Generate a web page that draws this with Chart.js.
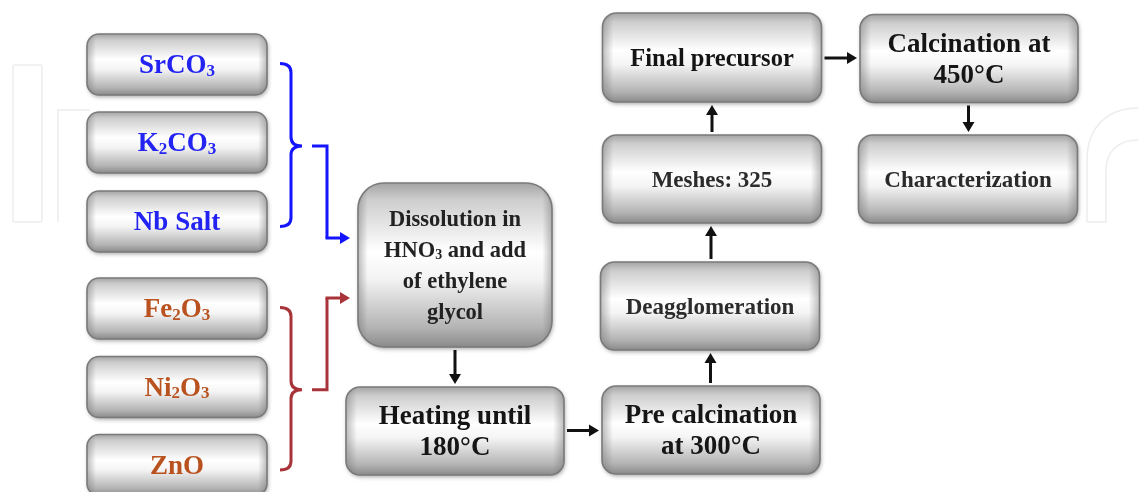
<!DOCTYPE html>
<html>
<head>
<meta charset="utf-8">
<script src="https://cdn.jsdelivr.net/npm/chart.js@4.4.1/dist/chart.umd.min.js"></script>
<style>
html, body { margin: 0; padding: 0; background: #fff; }
#wrap { position: relative; width: 1138px; height: 492px; }
</style>
</head>
<body>
<div id="wrap"><canvas id="flow"></canvas></div>
<script>
// Flowchart of the synthesis route, drawn on a scatter chart (one point per step)

// step labels: "|" breaks a line, "_2" marks a subscript digit
const nodeLabels = [
    'SrCO_3', 'K_2CO_3', 'Nb Salt', 'Fe_2O_3', 'Ni_2O_3', 'ZnO',
    'Dissolution in|HNO_3 and add|of ethylene|glycol',
    'Heating until|180°C', 'Pre calcination|at 300°C', 'Deagglomeration',
    'Meshes: 325', 'Final precursor', 'Calcination at|450°C', 'Characterization'
];
const nodeX = [177, 177, 177, 177, 177, 177, 455, 455, 711, 710, 712, 712, 969, 968];
const nodeY = [64.5, 142.5, 221.5, 308.5, 387, 465, 265, 431, 430, 306, 179, 57.5, 58.5, 179];
const nodeKind = ['blue', 'blue', 'blue', 'red', 'red', 'red', 'dissolve', 'big', 'big', 'small', 'small', 'mid', 'big', 'small'];

// process arrows
const edgeFrom = [6, 7, 8, 9, 10, 11, 12];
const edgeTo = [7, 8, 9, 10, 11, 12, 13];

// raw material groups joined with a brace into the dissolution step
const groupBlue = [0, 1, 2];
const groupRed = [3, 4, 5];
const groupTarget = 6;

const FONT = '"Liberation Serif", "Times New Roman", serif';
const kinds = {
    blue:     { w: 180, h: 61,  r: 12, size: 27, lh: 30, color: '#2323f2' },
    red:      { w: 180, h: 61,  r: 12, size: 27, lh: 30, color: '#b9521f' },
    dissolve: { w: 194, h: 164, r: 26, size: 22.5, lh: 31, color: '#222222' },
    big:      { w: 218, h: 88,  r: 14, size: 27, lh: 31, color: '#151515' },
    mid:      { w: 219, h: 89,  r: 14, size: 24.5, lh: 30, color: '#151515' },
    small:    { w: 219, h: 88,  r: 14, size: 23, lh: 28, color: '#2b2b2b' }
};
const braceStyles = [
    { group: groupBlue, color: '#1414ff', entry: -27 },
    { group: groupRed,  color: '#a8343a', entry: 33 }
];

function roundRect(ctx, x, y, w, h, r) {
    ctx.beginPath();
    ctx.moveTo(x + r, y);
    ctx.arcTo(x + w, y, x + w, y + h, r);
    ctx.arcTo(x + w, y + h, x, y + h, r);
    ctx.arcTo(x, y + h, x, y, r);
    ctx.arcTo(x, y, x + w, y, r);
    ctx.closePath();
}

// split "HNO_3 and" into normal / subscript pieces
function pieces(line) {
    const out = [];
    line.split(/(_\d)/).forEach(p => {
        if (!p) return;
        if (p[0] === '_') out.push({ t: p.slice(1), sub: true });
        else out.push({ t: p, sub: false });
    });
    return out;
}

function drawLine(ctx, line, cx, baseline, size) {
    const parts = pieces(line);
    const subSize = Math.round(size * 0.62);
    let total = 0;
    parts.forEach(p => {
        ctx.font = 'bold ' + (p.sub ? subSize : size) + 'px ' + FONT;
        p.w = ctx.measureText(p.t).width;
        total += p.w;
    });
    let x = cx - total / 2;
    parts.forEach(p => {
        ctx.font = 'bold ' + (p.sub ? subSize : size) + 'px ' + FONT;
        ctx.fillText(p.t, x, baseline + (p.sub ? size * 0.08 : 0));
        x += p.w;
    });
}

// box size in pixels, through the chart scales
function boxOf(chart, i) {
    const k = kinds[nodeKind[i]];
    const xs = chart.scales.x, ys = chart.scales.y;
    const pt = chart.getDatasetMeta(0).data[i];
    const w = Math.abs(xs.getPixelForValue(nodeX[i] + k.w / 2) - xs.getPixelForValue(nodeX[i] - k.w / 2));
    const h = Math.abs(ys.getPixelForValue(nodeY[i] + k.h / 2) - ys.getPixelForValue(nodeY[i] - k.h / 2));
    return { cx: pt.x, cy: pt.y, w: w, h: h, l: pt.x - w / 2, r: pt.x + w / 2, t: pt.y - h / 2, b: pt.y + h / 2, k: k };
}

function arrowHead(ctx, x, y, dx, dy, len, half) {
    ctx.beginPath();
    ctx.moveTo(x, y);
    ctx.lineTo(x - dx * len - dy * half, y - dy * len + dx * half);
    ctx.lineTo(x - dx * len + dy * half, y - dy * len - dx * half);
    ctx.closePath();
    ctx.fill();
}

function arrow(ctx, x1, y1, x2, y2, color) {
    const d = Math.hypot(x2 - x1, y2 - y1);
    const dx = (x2 - x1) / d, dy = (y2 - y1) / d;
    ctx.strokeStyle = color;
    ctx.fillStyle = color;
    ctx.lineWidth = 3;
    ctx.beginPath();
    ctx.moveTo(x1, y1);
    ctx.lineTo(x2 - dx * 7, y2 - dy * 7);
    ctx.stroke();
    arrowHead(ctx, x2, y2, dx, dy, 10, 6);
}

const watermark = {
    id: 'watermark',
    beforeDatasetsDraw(chart) {
        const ctx = chart.ctx;
        ctx.save();
        ctx.strokeStyle = '#ededed';
        ctx.lineWidth = 1.5;
        roundRect(ctx, 13, 65, 29, 157, 2);
        ctx.stroke();
        ctx.beginPath();
        ctx.moveTo(58, 222);
        ctx.lineTo(58, 110);
        ctx.lineTo(90, 110);
        ctx.stroke();
        ctx.beginPath();
        ctx.moveTo(1087, 222);
        ctx.lineTo(1087, 160);
        ctx.bezierCurveTo(1087, 125, 1110, 108, 1138, 108);
        ctx.stroke();
        ctx.beginPath();
        ctx.moveTo(1087, 222);
        ctx.lineTo(1106, 222);
        ctx.lineTo(1106, 170);
        ctx.bezierCurveTo(1106, 150, 1120, 140, 1138, 140);
        ctx.stroke();
        ctx.restore();
    }
};

const flowBoxes = {
    id: 'flowBoxes',
    afterDatasetsDraw(chart) {
        const ctx = chart.ctx;
        ctx.save();

        // braces and their connectors
        braceStyles.forEach(bs => {
            const first = boxOf(chart, bs.group[0]);
            const last = boxOf(chart, bs.group[bs.group.length - 1]);
            const target = boxOf(chart, groupTarget);
            const y1 = first.cy - 1, y2 = last.cy + 5, mid = (y1 + y2) / 2 + 1;
            const bx = first.r + 13, bw = 22, vx = bx + bw / 2;
            ctx.strokeStyle = bs.color;
            ctx.lineWidth = 3;
            ctx.lineJoin = 'miter';
            ctx.beginPath();
            ctx.moveTo(bx, y1);
            ctx.quadraticCurveTo(vx, y1, vx, y1 + 9);
            ctx.lineTo(vx, mid - 9);
            ctx.quadraticCurveTo(vx, mid, bx + bw, mid);
            ctx.quadraticCurveTo(vx, mid, vx, mid + 9);
            ctx.lineTo(vx, y2 - 9);
            ctx.quadraticCurveTo(vx, y2, bx, y2);
            ctx.stroke();

            const ty = target.cy + bs.entry;
            const jx = bx + bw + 25;
            ctx.beginPath();
            ctx.moveTo(bx + bw + 10, mid);
            ctx.lineTo(jx, mid);
            ctx.lineTo(jx, ty);
            ctx.stroke();
            arrow(ctx, jx - 1.5, ty, target.l - 8, ty, bs.color);
        });

        // process arrows
        edgeFrom.forEach((a, n) => {
            const A = boxOf(chart, a), B = boxOf(chart, edgeTo[n]);
            const g = 3;
            if (Math.abs(B.cx - A.cx) > Math.abs(B.cy - A.cy)) {
                const y = (A.cy + B.cy) / 2;
                arrow(ctx, A.r + g, y, B.l - g, y, '#111');
            } else {
                const x = (A.cx + B.cx) / 2;
                if (B.cy > A.cy) arrow(ctx, x, A.b + g, x, B.t - g, '#111');
                else arrow(ctx, x, A.t - g, x, B.b + g, '#111');
            }
        });

        // boxes
        nodeLabels.forEach((label, i) => {
            const b = boxOf(chart, i);
            const k = b.k;

            ctx.save();
            ctx.shadowColor = 'rgba(0,0,0,0.35)';
            ctx.shadowBlur = 4;
            ctx.shadowOffsetX = 1;
            ctx.shadowOffsetY = 2;
            const vg = ctx.createLinearGradient(0, b.t, 0, b.b);
            vg.addColorStop(0, '#a4a4a4');
            vg.addColorStop(0.1, '#cdcdcd');
            vg.addColorStop(0.42, '#ffffff');
            vg.addColorStop(0.58, '#f4f4f4');
            vg.addColorStop(0.88, '#b4b4b4');
            vg.addColorStop(1, '#8a8a8a');
            roundRect(ctx, b.l, b.t, b.w, b.h, k.r);
            ctx.fillStyle = vg;
            ctx.fill();
            ctx.restore();

            const hg = ctx.createLinearGradient(b.l, 0, b.r, 0);
            hg.addColorStop(0, 'rgba(110,110,110,0.45)');
            hg.addColorStop(0.05, 'rgba(110,110,110,0)');
            hg.addColorStop(0.95, 'rgba(110,110,110,0)');
            hg.addColorStop(1, 'rgba(110,110,110,0.45)');
            roundRect(ctx, b.l, b.t, b.w, b.h, k.r);
            ctx.fillStyle = hg;
            ctx.fill();
            ctx.strokeStyle = '#7a7a7a';
            ctx.lineWidth = 1.6;
            ctx.stroke();

            // label
            const lines = label.split('|');
            ctx.fillStyle = k.color;
            ctx.textAlign = 'left';
            ctx.textBaseline = 'alphabetic';
            lines.forEach((line, j) => {
                const base = b.cy + (j - (lines.length - 1) / 2) * k.lh + k.size * 0.33;
                drawLine(ctx, line, b.cx, base, k.size);
            });
        });

        ctx.restore();
    }
};

document.addEventListener('DOMContentLoaded', function () {
    const ctx = document.getElementById('flow');
    new Chart(ctx, {
        type: 'scatter',
        data: {
            labels: nodeLabels,
            datasets: [{
                data: nodeX.map((x, i) => ({ x: x, y: nodeY[i] })),
                pointRadius: 0,
                pointHoverRadius: 0
            }]
        },
        options: {
            responsive: true,
            maintainAspectRatio: false,
            animation: false,
            layout: { padding: 0 },
            scales: {
                x: { type: 'linear', min: 0, max: 1138, display: false },
                y: { type: 'linear', min: 0, max: 492, reverse: true, display: false }
            },
            plugins: {
                legend: { display: false },
                tooltip: { enabled: false }
            }
        },
        plugins: [watermark, flowBoxes]
    });
});
</script>
</body>
</html>
